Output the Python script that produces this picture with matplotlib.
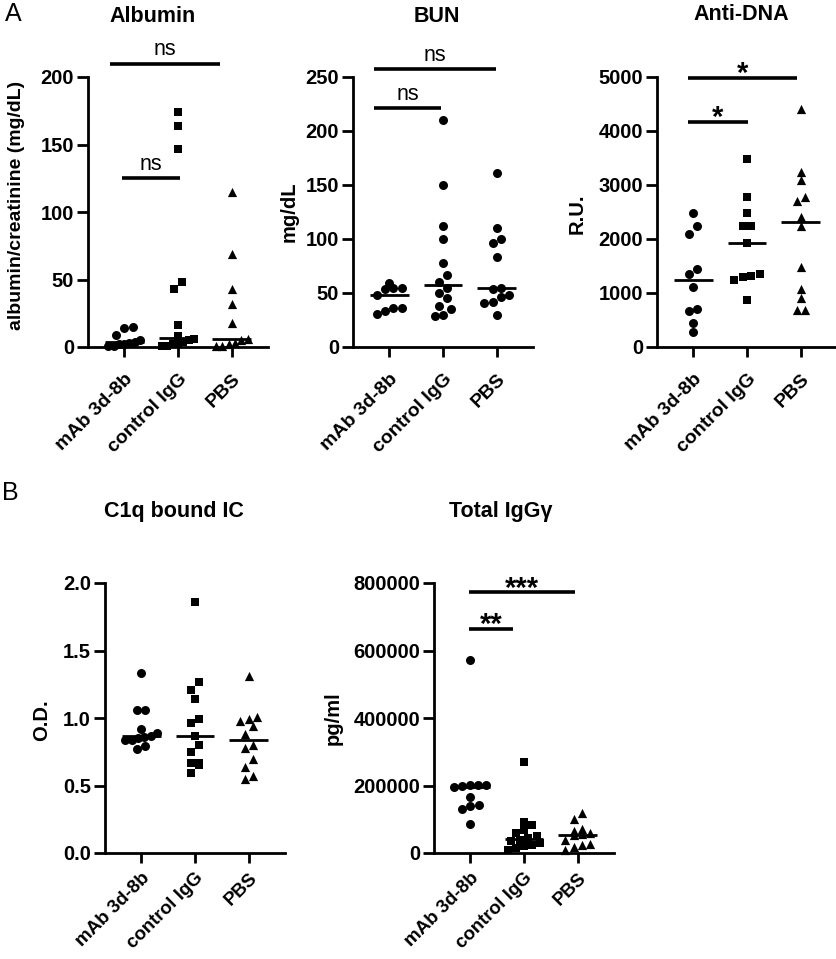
import numpy as np
import matplotlib
matplotlib.use('Agg')
import matplotlib.pyplot as plt
from matplotlib.transforms import ScaledTranslation

plt.rcParams['font.family'] = ['Liberation Sans', 'DejaVu Sans']

groups = ['mAb 3d-8b', 'control IgG', 'PBS']

# ---- data ----
albumin_mab = [15, 14, 9, 5, 4, 3, 2, 2, 1, 1]
albumin_ctrl = [174, 164, 147, 48, 43, 16, 8, 6, 5, 4, 3, 2, 1, 1]
albumin_pbs = [115, 69, 43, 32, 18, 6, 5, 3, 2, 1, 1]

bun_mab = [59, 55, 55, 54, 48, 36, 36, 33, 31]
bun_ctrl = [210, 150, 112, 100, 78, 67, 60, 55, 50, 45, 38, 35, 30, 29]
bun_pbs = [161, 110, 100, 96, 83, 55, 54, 48, 46, 42, 41, 30]

dna_mab = [2490, 2240, 2090, 1440, 1360, 1110, 710, 660, 450, 280]
dna_ctrl = [3480, 2770, 2490, 2240, 2240, 1920, 1350, 1310, 1300, 1250, 870]
dna_pbs = [4410, 3250, 3090, 2770, 2710, 2400, 2240, 1490, 1080, 900, 690, 690]

c1q_mab = [1.33, 1.06, 1.06, 0.92, 0.89, 0.87, 0.86, 0.85, 0.84, 0.84, 0.79, 0.77]
c1q_ctrl = [1.86, 1.27, 1.21, 1.14, 0.99, 0.96, 0.87, 0.80, 0.75, 0.67, 0.67, 0.65, 0.59]
c1q_pbs = [1.31, 1.01, 0.99, 0.98, 0.94, 0.88, 0.80, 0.78, 0.70, 0.64, 0.57, 0.55]

igg_mab = [573000, 202000, 202000, 201000, 200000, 196000, 166000, 141000, 138000, 130000, 86000]
igg_ctrl = [270000, 92000, 84000, 69000, 60000, 50000, 45000, 40000, 35000, 30000, 25000, 20000, 15000, 10000]
igg_pbs = [120000, 101000, 72000, 66000, 60000, 56000, 52000, 40000, 28000, 25000, 18000, 10000]

# significance annotations: (x1, x2, y, label)
albumin_sig = [(-0.26, 1.78, 210, 'ns'), (-0.04, 1.04, 125, 'ns')]
bun_sig = [(-0.28, 1.98, 257, 'ns'), (-0.28, 0.97, 221, 'ns')]
dna_sig = [(-0.10, 1.93, 4980, '*'), (-0.10, 1.02, 4165, '*')]
igg_sig = [(-0.02, 1.94, 772000, '***'), (-0.02, 0.80, 664000, '**')]

W, H = 837, 959
fig = plt.figure(figsize=(W / 100, H / 100), dpi=100)


def px_axes(x0, x1, ytop, ybot):
    return fig.add_axes([x0 / W, 1 - ybot / H, (x1 - x0) / W, (ybot - ytop) / H])


def swarm_offsets(ax, values, diam=8.4, maxw=40.0):
    tr = ax.transData
    ppu = tr.transform((1, 0))[0] - tr.transform((0, 0))[0]
    ys = np.array([tr.transform((0, v))[1] for v in values])
    order = np.argsort(ys)
    offs = np.zeros(len(values))
    rows = []
    cur = [order[0]]
    for idx in order[1:]:
        if ys[idx] - ys[cur[0]] < diam:
            cur.append(idx)
        else:
            rows.append(cur)
            cur = [idx]
    rows.append(cur)
    for row in rows:
        n = len(row)
        step = diam
        if (n - 1) * step > maxw - diam:
            step = max((maxw - diam) / max(n - 1, 1), 1.0)
        for k, idx in enumerate(row):
            offs[idx] = (k - (n - 1) / 2) * step / ppu
    return offs


FS_TICK = 14.5
FS_TITLE = 15.5
FS_YLAB = 14.5


def panel(ax, data, markers, ylim, yticks, fmt, sig=None, xfs=14, xpad=10):
    ax.set_xlim(-0.67, 2.67)
    ax.set_ylim(*ylim)
    ax.set_yticks(yticks)
    ax.set_yticklabels([fmt(t) for t in yticks], fontsize=FS_TICK, fontweight='bold')
    ax.set_xticks([0, 1, 2])
    ax.set_xticklabels(groups, rotation=45, ha='right', va='top',
                       rotation_mode='anchor', fontsize=xfs, fontweight='bold')
    shift = ScaledTranslation(4 / 72, 0, fig.dpi_scale_trans)
    for lab in ax.get_xticklabels():
        lab.set_transform(lab.get_transform() + shift)
    for s in ['top', 'right']:
        ax.spines[s].set_visible(False)
    for s in ['left', 'bottom']:
        ax.spines[s].set_linewidth(2)
    ax.tick_params(axis='y', length=8, width=2, pad=2)
    ax.tick_params(axis='x', length=7, width=2, pad=xpad)
    sizes = {'o': 42, 's': 32, '^': 44}
    for i, (vals, m) in enumerate(zip(data, markers)):
        vals = np.array(vals, dtype=float)
        offs = swarm_offsets(ax, vals)
        ax.scatter(i + offs, vals, marker=m, s=sizes[m], color='black',
                   linewidths=0, clip_on=False, zorder=3)
        med = np.median(vals)
        ax.plot([i - 0.36, i + 0.36], [med, med], color='black', lw=2,
                solid_capstyle='butt', zorder=4, clip_on=False)
    if sig:
        for x1, x2, y, lab in sig:
            ax.plot([x1, x2], [y, y], color='black', lw=2.6, clip_on=False,
                    solid_capstyle='butt')
            if lab == 'ns':
                ax.annotate(lab, ((x1 + x2) / 2, y), xytext=(0, 6),
                            textcoords='offset points', ha='center',
                            va='baseline', fontsize=15.5, annotation_clip=False)
            else:
                ax.annotate(lab, ((x1 + x2) / 2, y), xytext=(0, -3),
                            textcoords='offset points', ha='center',
                            va='baseline', fontsize=21, fontweight='bold',
                            annotation_clip=False)


ints = lambda t: f'{int(t)}'
one = lambda t: f'{t:.1f}'

ax1 = px_axes(88, 268, 77, 347)
panel(ax1, [albumin_mab, albumin_ctrl, albumin_pbs], ['o', 's', '^'],
      (0, 200), [0, 50, 100, 150, 200], ints, albumin_sig)
ax2 = px_axes(353, 533, 77, 347)
panel(ax2, [bun_mab, bun_ctrl, bun_pbs], ['o', 'o', 'o'],
      (0, 250), [0, 50, 100, 150, 200, 250], ints, bun_sig)
ax3 = px_axes(657, 837, 77, 347)
panel(ax3, [dna_mab, dna_ctrl, dna_pbs], ['o', 's', '^'],
      (0, 5000), [0, 1000, 2000, 3000, 4000, 5000], ints, dna_sig)
ax4 = px_axes(105, 285, 583, 853)
panel(ax4, [c1q_mab, c1q_ctrl, c1q_pbs], ['o', 's', '^'],
      (0, 2.0), [0, 0.5, 1.0, 1.5, 2.0], one, xfs=13.5, xpad=5)
ax5 = px_axes(434, 614, 583, 853)
panel(ax5, [igg_mab, igg_ctrl, igg_pbs], ['o', 's', '^'],
      (0, 800000), [0, 200000, 400000, 600000, 800000], ints, igg_sig,
      xfs=13.5, xpad=5)


def ftext(x, y, s, **kw):
    fig.text(x / W, 1 - y / H, s, **kw)


# titles
ftext(153, 16, 'Albumin', ha='center', va='center', fontsize=FS_TITLE, fontweight='bold')
ftext(437, 16, 'BUN', ha='center', va='center', fontsize=FS_TITLE, fontweight='bold')
ftext(741, 14, 'Anti-DNA', ha='center', va='center', fontsize=FS_TITLE, fontweight='bold')
ftext(174, 512, 'C1q bound IC', ha='center', va='center', fontsize=FS_TITLE, fontweight='bold')
ftext(501, 512, 'Total IgGγ', ha='center', va='center', fontsize=FS_TITLE, fontweight='bold')

# y labels
ftext(17, 205, 'albumin/creatinine (mg/dL)', ha='center', va='center',
      rotation=90, fontsize=14, fontweight='bold')
ftext(289, 212, 'mg/dL', ha='center', va='center', rotation=90, fontsize=FS_YLAB, fontweight='bold')
ftext(577, 214, 'R.U.', ha='center', va='center', rotation=90, fontsize=FS_YLAB, fontweight='bold')
ftext(42, 720, 'O.D.', ha='center', va='center', rotation=90, fontsize=FS_YLAB, fontweight='bold')
ftext(333, 718, 'pg/ml', ha='center', va='center', rotation=90, fontsize=FS_YLAB, fontweight='bold')

# panel letters
ftext(13, 14, 'A', ha='center', va='center', fontsize=18)
ftext(10, 493, 'B', ha='center', va='center', fontsize=18)

fig.savefig('out.png', dpi=100)
